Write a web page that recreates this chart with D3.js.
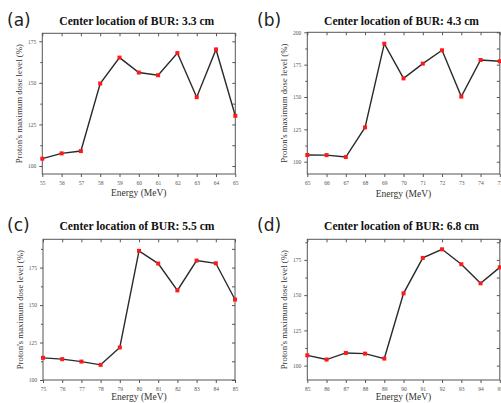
<!DOCTYPE html>
<html><head><meta charset="utf-8">
<script src="https://cdn.jsdelivr.net/npm/d3@7"></script>
<style>body{margin:0;background:#fff}svg{display:block}</style>
</head><body>
<svg id="c" width="501" height="403"></svg>
<script>
const energyA = [55,56,57,58,59,60,61,62,63,64,65];
const doseA = [104.4,107.6,109.0,149.6,165.2,156.2,154.6,167.9,141.4,170.1,130.2];
const energyB = [65,66,67,68,69,70,71,72,73,74,75];
const doseB = [105.2,105.1,103.6,126.5,191.2,164.4,175.8,186.1,150.3,178.6,177.6];
const energyC = [75,76,77,78,79,80,81,82,83,84,85];
const doseC = [114.8,113.9,112.3,110.1,121.7,186.2,177.7,159.8,179.7,177.9,153.7];
const energyD = [85,86,87,88,89,90,91,92,93,94,95];
const doseD = [107.3,104.3,109.0,108.5,105.0,151.3,176.4,182.5,171.9,158.4,169.7];
const titles = ["Center location of BUR: 3.3 cm","Center location of BUR: 4.3 cm","Center location of BUR: 5.5 cm","Center location of BUR: 6.8 cm"];
const panelLabels = ["(a)","(b)","(c)","(d)"];
const yTicksA = [100,125,150,175];
const yTicksB = [100,125,150,175,200];
const yTicksC = [100,125,150,175];
const yTicksD = [100,125,150,175];
const xLabel = "Energy (MeV)";
const yLabel = "Proton's maximum dose level (%)";

const panels = [
  {e:energyA, v:doseA, yt:yTicksA, yd:[95.2,179.8], x0:42.3, x1:235.3, y0:33.3, y1:174, ox:0, oy:0, xl:22},
  {e:energyB, v:doseB, yt:yTicksB, yd:[90.5,200], x0:307.3, x1:499.8, y0:32.3, y1:174, ox:250, oy:0, xl:23},
  {e:energyC, v:doseC, yt:yTicksC, yd:[100,193.9], x0:43, x1:235, y0:239.3, y1:380, ox:0, oy:205, xl:19.5},
  {e:energyD, v:doseD, yt:yTicksD, yd:[89.8,189.6], x0:307.3, x1:499.8, y0:239.3, y1:380, ox:250, oy:205, xl:19.5}
];
const svg = d3.select("#c");
const serif = "'Liberation Serif','DejaVu Serif',serif";
const frame = "#555";
panels.forEach((p,i)=>{
  const g = svg.append("g");
  const x = d3.scaleLinear().domain([p.e[0], p.e[p.e.length-1]]).range([p.x0,p.x1]);
  const y = d3.scaleLinear().domain(p.yd).range([p.y1,p.y0]);
  const minor = [];
  for(let t=p.yt[0]-12.5;t<=p.yd[1];t+=12.5){ if(t>=p.yd[0] && !p.yt.includes(t)) minor.push(t); }
  g.append("rect").attr("x",p.x0).attr("y",p.y0).attr("width",p.x1-p.x0).attr("height",p.y1-p.y0)
    .attr("fill","none").attr("stroke",frame).attr("stroke-width",1);
  const bottom = d3.axisBottom(x).tickValues(p.e).tickSize(3).tickFormat(d3.format("d"));
  const left = d3.axisLeft(y).tickValues(p.yt).tickSize(3).tickFormat(d3.format("d"));
  const top = d3.axisTop(x).tickValues(p.e).tickSize(-3).tickFormat("");
  const right = d3.axisRight(y).tickValues(p.yt.concat(minor)).tickSize(-3).tickFormat("");
  const leftMinor = d3.axisLeft(y).tickValues(minor).tickSize(2).tickFormat("");
  const ax = [
    g.append("g").attr("transform",`translate(0,${p.y1})`).call(bottom),
    g.append("g").attr("transform",`translate(${p.x0},0)`).call(left),
    g.append("g").attr("transform",`translate(0,${p.y0})`).call(top),
    g.append("g").attr("transform",`translate(${p.x1},0)`).call(right),
    g.append("g").attr("transform",`translate(${p.x0},0)`).call(leftMinor)
  ];
  ax.forEach(a=>{
    a.select(".domain").remove();
    a.selectAll("line").attr("stroke",frame);
    a.selectAll("text").attr("font-family",serif).attr("font-size",5.5).attr("fill","#555");
  });
  ax[0].selectAll("text").attr("dy","0.9em");
  const line = d3.line().x((d,j)=>x(p.e[j])).y(d=>y(d));
  g.append("path").datum(p.v).attr("d",line).attr("fill","none").attr("stroke","#2a2a2a").attr("stroke-width",1.4);
  g.selectAll("rect.pt").data(p.v).enter().append("rect").attr("class","pt")
    .attr("x",(d,j)=>x(p.e[j])-2).attr("y",d=>y(d)-2).attr("width",4).attr("height",4).attr("fill","#ff1a1a");
  const cx = (p.x0+p.x1)/2;
  g.append("text").attr("x",cx - 2).attr("y",p.oy+25).attr("text-anchor","middle")
    .attr("font-family",serif).attr("font-weight","bold").attr("font-size",11.6).attr("fill","#111").text(titles[i]);
  g.append("text").attr("x",p.ox+7).attr("y",p.oy+26).attr("font-family","'DejaVu Sans',sans-serif")
    .attr("font-size",17).attr("fill","#222").text(panelLabels[i]);
  g.append("text").attr("x",cx).attr("y",p.y1+p.xl).attr("text-anchor","middle")
    .attr("font-family",serif).attr("font-size",9.5).attr("fill","#333").text(xLabel);
  g.append("text").attr("transform",`translate(${p.x0-20},${(p.y0+p.y1)/2}) rotate(-90)`).attr("text-anchor","middle")
    .attr("font-family",serif).attr("font-size",8.8).attr("fill","#333").text(yLabel);
});
</script>
</body></html>
